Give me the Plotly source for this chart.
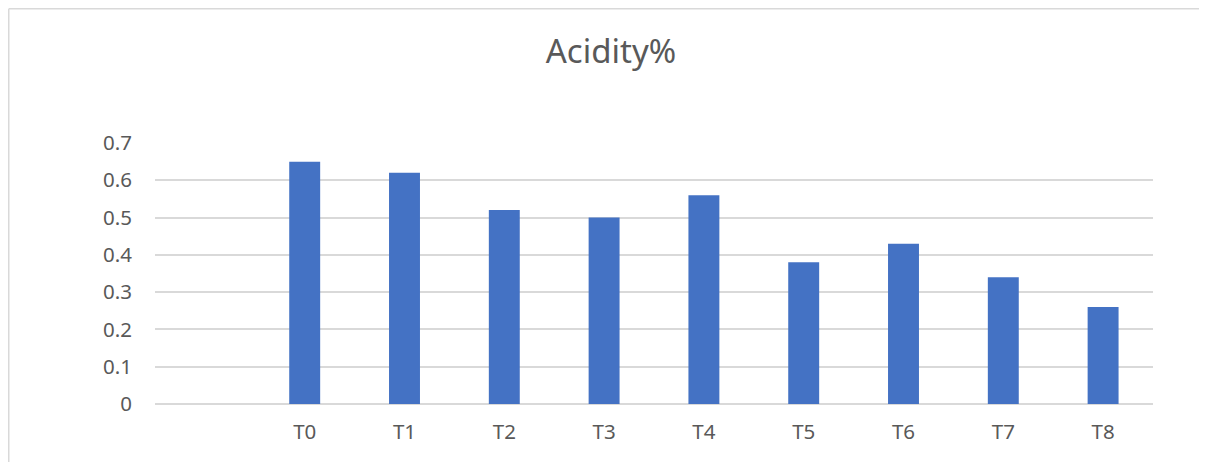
import plotly.graph_objects as go

categories = [" ", "T0", "T1", "T2", "T3", "T4", "T5", "T6", "T7", "T8"]
acidity = [None, 0.65, 0.62, 0.52, 0.50, 0.56, 0.38, 0.43, 0.34, 0.26]
y_ticks = [0, 0.1, 0.2, 0.3, 0.4, 0.5, 0.6, 0.7]
y_tick_labels = ["0", "0.1", "0.2", "0.3", "0.4", "0.5", "0.6", "0.7"]

OFF = 8  # page body margin
W, H = 1207 - OFF, 462 - OFF
L, R, T, B = 155 - OFF, 54, 143 - OFF, 58
pw, ph = W - L - R, H - T - B

fig = go.Figure(go.Bar(
    x=categories, y=acidity,
    marker=dict(color="#4472C4", line=dict(color="#4472C4", width=0)),
))

border = dict(color="#d9d9d9", width=1.5)
fig.update_layout(
    width=W, height=H,
    margin=dict(l=L, r=R, t=T, b=B, autoexpand=False),
    paper_bgcolor="white", plot_bgcolor="white",
    bargap=0.69,
    showlegend=False,
    font=dict(family="Noto Sans, Open Sans, sans-serif", color="#595959"),
    title=dict(text="Acidity%", x=(611 - OFF) / W, xanchor="center", xref="container",
               y=1 - (51 - OFF) / H, yanchor="middle", yref="container",
               font=dict(size=33, color="#595959")),
    xaxis=dict(type="category", categoryorder="array", categoryarray=categories,
               range=[-0.5, len(categories) - 0.5],
               showgrid=False, zeroline=False, showline=False, ticks="",
               tickfont=dict(size=20.5, color="#595959"), ticklabelstandoff=13),
    yaxis=dict(range=[0, 0.7], tickvals=y_ticks, ticktext=y_tick_labels,
               showgrid=True, gridcolor="#d9d9d9", gridwidth=2,
               zeroline=True, zerolinecolor="#d9d9d9", zerolinewidth=2,
               showline=False, ticks="",
               tickfont=dict(size=20.5, color="#595959"), ticklabelstandoff=22),
    shapes=[
        dict(type="line", xref="paper", yref="paper",
             x0=(0.75 - L) / pw, x1=(W - L) / pw,
             y0=1 + (T - 0.75) / ph, y1=1 + (T - 0.75) / ph, line=border, layer="below"),
        dict(type="line", xref="paper", yref="paper",
             x0=(0.75 - L) / pw, x1=(0.75 - L) / pw,
             y0=-B / ph, y1=1 + (T - 0.75) / ph, line=border, layer="below"),
    ],
)

fig.write_html("out.html")
